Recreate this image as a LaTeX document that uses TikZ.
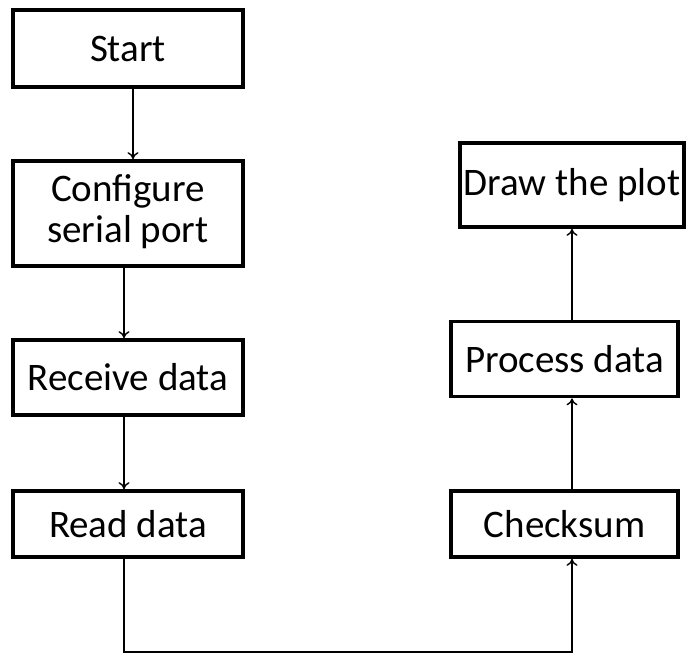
\documentclass[tikz,border=0pt]{standalone}
\usepackage{fontspec}
\setmainfont{Carlito}
\usetikzlibrary{arrows.meta,positioning}
\tikzset{main node/.style={rectangle,draw,line width=3.7pt,minimum width=230pt,inner sep=0pt,font=\fontsize{39}{45}\selectfont,align=center},
         flow/.style={-{To[length=7pt,width=11pt]},line width=1.4pt}
}
\begin{document}
\begin{tikzpicture}[x=1pt,y=-1pt]
\useasboundingbox (0,0) rectangle (686,653);
% left column
\node [main node, minimum height=77pt] (start) at (128,48.5) {Start};
\node [main node, minimum height=105pt] (config) at (128,213.5) {\raisebox{10pt}{\shortstack{Configure\\[5pt]serial port}}};
\node [main node, minimum height=75pt] (receive) at (128,377.5) {Receive data};
\node [main node, minimum height=66pt] (read) at (128,524) {Read data};
% right column
\node [main node, minimum width=224pt, minimum height=84pt] (plot) at (572,185) {\raisebox{7pt}{Draw the plot}};
\node [main node, minimum width=227pt, minimum height=75pt] (process) at (564.5,359) {Process data};
\node [main node, minimum width=227pt, minimum height=66pt] (checksum) at (564.5,524) {Checksum};
\coordinate (lx) at (124,0);
\coordinate (bend) at (572,652);
\draw[flow] (start.south -| 133,0) -- (config.north -| 133,0);
\draw[flow] (config.south -| lx) -- (receive.north -| lx);
\draw[flow] (receive.south -| lx) -- (read.north -| lx);
\draw[flow] (read.south -| lx) |- (bend) -- (checksum.south -| bend);
\draw[flow] (checksum.north -| bend) -- (process.south -| bend);
\draw[flow] (process.north -| plot.south) -- (plot.south);
\end{tikzpicture}
\end{document}
